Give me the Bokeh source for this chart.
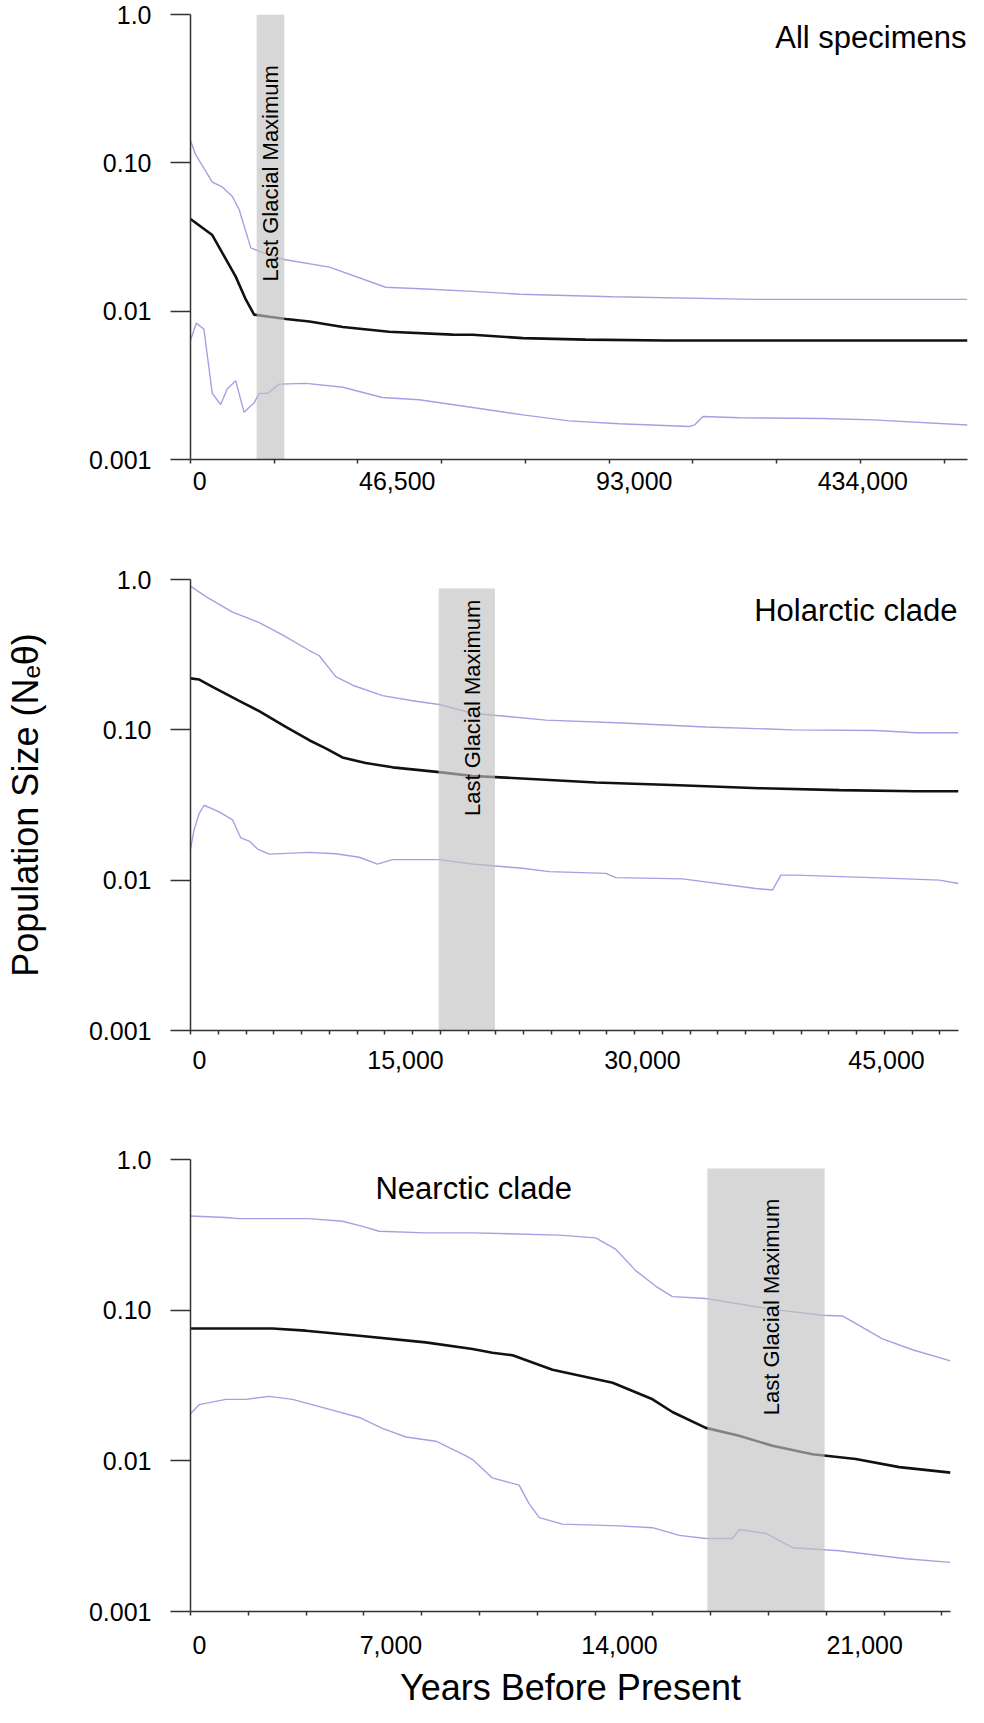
import math
from bokeh.plotting import figure
from bokeh.models import Range1d, FixedTicker, Label
from bokeh.layouts import column
from bokeh.embed import file_html
from bokeh.resources import INLINE

# ---------------- data ----------------
# Panel A: All specimens (x in axis units: one unit per tick mark of the
# original non-linear time axis)
all_med_x = [0, 0.26, 0.54, 0.66, 0.76, 0.94, 1.14, 1.42, 1.82, 2.37, 3.13, 3.37, 3.97, 4.72, 5.68, 9.28]
all_med_y = [0.0418, 0.0326, 0.0171, 0.0120, 0.00948, 0.00916, 0.00886, 0.00851, 0.00783, 0.00726,
             0.00695, 0.00693, 0.00658, 0.00643, 0.00634, 0.00634]
all_hi_x = [0, 0.06, 0.26, 0.38, 0.50, 0.58, 0.72, 0.82, 1.10, 1.66, 2.33, 2.81, 3.37, 3.93, 5.04, 6.75, 9.28]
all_hi_y = [0.1415, 0.114, 0.0741, 0.0688, 0.0593, 0.0486, 0.0267, 0.0254, 0.0224, 0.0198, 0.0145,
            0.0141, 0.0136, 0.0130, 0.0125, 0.0120, 0.0120]
all_lo_x = [0, 0.07, 0.16, 0.26, 0.36, 0.44, 0.54, 0.64, 0.76, 0.82, 0.92, 1.06, 1.38, 1.82, 2.29, 2.73,
            3.37, 3.97, 4.52, 5.12, 5.96, 6.02, 6.12, 6.56, 7.55, 8.15, 9.28]
all_lo_y = [0.00637, 0.00831, 0.00755, 0.00279, 0.00235, 0.00300, 0.00339, 0.00208, 0.00241, 0.00279,
            0.00279, 0.00322, 0.00326, 0.00307, 0.00262, 0.00253, 0.00224, 0.00200, 0.00182, 0.00174,
            0.00167, 0.00171, 0.00195, 0.00191, 0.00189, 0.00185, 0.00171]
all_x_end = 9.28
all_tick_units = list(range(0, 10))
all_label_pos = [0.11, 2.47, 5.30, 8.03]
all_labels = ["0", "46,500", "93,000", "434,000"]
all_lgm = [0.79, 1.12]
all_lgm_top = 1.0

# Panel B: Holarctic clade (years before present)
hol_med_x = [0, 550, 1390, 3070, 4330, 6010, 7490, 8530, 9580, 11050, 12740, 15680, 17780, 19880,
             25560, 30820, 35860, 40910, 45740, 48430]
hol_med_y = [0.220, 0.216, 0.193, 0.156, 0.133, 0.1045, 0.0853, 0.0753, 0.0655, 0.0601, 0.0563,
             0.0523, 0.0493, 0.0481, 0.0446, 0.0428, 0.0409, 0.0397, 0.0390, 0.0390]
hol_hi_x = [0, 970, 2650, 4330, 5800, 7490, 8120, 9160, 10220, 12110, 14000, 15680, 17780, 22410,
            27240, 32500, 37980, 43220, 45740, 48430]
hol_hi_y = [0.904, 0.770, 0.607, 0.517, 0.428, 0.337, 0.311, 0.226, 0.198, 0.169, 0.156, 0.1475,
            0.129, 0.116, 0.111, 0.1045, 0.100, 0.099, 0.0957, 0.0957]
hol_lo_x = [0, 230, 550, 860, 1810, 2650, 3170, 3700, 4230, 4960, 7490, 9160, 10640, 11790, 12740,
            15680, 17780, 20940, 22620, 26190, 26820, 31030, 35650, 36700, 37230, 38170, 43000,
            47220, 48430]
hol_lo_y = [0.0161, 0.0217, 0.0278, 0.0315, 0.0285, 0.0252, 0.0191, 0.0182, 0.0161, 0.0149, 0.0153,
            0.0150, 0.0142, 0.0128, 0.0137, 0.0137, 0.0128, 0.0120, 0.0114, 0.0111, 0.0104, 0.0102,
            0.0088, 0.0086, 0.0108, 0.0108, 0.0104, 0.0100, 0.0095]
hol_x_end = 48430
hol_tick_years = list(range(0, 48431, 1750))
hol_label_pos = [570, 13560, 28500, 43890]
hol_labels = ["0", "15,000", "30,000", "45,000"]
hol_lgm = [15650, 19200]
hol_lgm_top = 0.87

# Panel C: Nearctic clade (years before present)
nea_med_x = [0, 2480, 3490, 5110, 7120, 8540, 9140, 9750, 10960, 12780, 13990, 14590, 15600, 16610,
             17620, 18830, 20140, 21460, 23010]
nea_med_y = [0.0755, 0.0755, 0.0731, 0.0676, 0.0611, 0.0552, 0.0522, 0.0502, 0.0402, 0.0330, 0.0256,
             0.0211, 0.01655, 0.01465, 0.01259, 0.01106, 0.01028, 0.00908, 0.00835]
nea_hi_x = [0, 1070, 1470, 3590, 4600, 5210, 5710, 7120, 8540, 11160, 12270, 12880, 13480, 14090,
            14590, 15600, 17620, 19130, 19740, 20950, 21860, 23010]
nea_hi_y = [0.422, 0.412, 0.405, 0.405, 0.389, 0.360, 0.334, 0.326, 0.326, 0.315, 0.302, 0.253, 0.183,
            0.144, 0.123, 0.1194, 0.1012, 0.0925, 0.0915, 0.0645, 0.0546, 0.0461]
nea_lo_x = [0, 260, 1070, 1670, 2380, 3090, 4100, 5110, 5810, 6520, 7430, 8340, 8540, 9140, 9950,
            10250, 10560, 11260, 12980, 13990, 14800, 15600, 16410, 16610, 17420, 18230, 19640,
            21660, 23010]
nea_lo_y = [0.0205, 0.0236, 0.0256, 0.0256, 0.0268, 0.0256, 0.0223, 0.0194, 0.0164, 0.0144, 0.0135,
            0.0108, 0.0102, 0.0077, 0.0069, 0.0052, 0.0042, 0.0038, 0.0037, 0.0036, 0.0032, 0.00305,
            0.00305, 0.0035, 0.0033, 0.00265, 0.00253, 0.00224, 0.00212]
nea_x_end = 23010
nea_tick_years = list(range(0, 23011, 1750))
nea_label_pos = [270, 6070, 12990, 20410]
nea_labels = ["0", "7,000", "14,000", "21,000"]
nea_lgm = [15650, 19200]
nea_lgm_top = 0.87

y_ticks = [0.001, 0.01, 0.1, 1.0]
y_tick_labels = ["0.001", "0.01", "0.10", "1.0"]

titles = ["All specimens", "Holarctic clade", "Nearctic clade"]
lgm_text = "Last Glacial Maximum"
y_title = "Population Size (N\u2091\u03b8)"
x_title = "Years Before Present"

# ---------------- style ----------------
FONT = "Liberation Sans"
MED_COLOR = "#111111"
CI_COLOR = "#a2a2e2"
AX_COLOR = "#333333"
BAND_COLOR = "#c2c2c2"


def make_panel(fw, fh, mt, mb, mr, x_end, tick_pos, label_pos, labels, x_std):
    p = figure(frame_width=fw, frame_height=fh,
               x_range=Range1d(0, x_end), y_range=Range1d(0.001, 1.0),
               y_axis_type="log", output_backend="svg", toolbar_location=None,
               min_border_left=190, min_border_right=mr,
               min_border_top=mt, min_border_bottom=mb)
    p.outline_line_color = None
    p.grid.visible = False
    p.background_fill_color = "white"
    p.border_fill_color = "white"

    ya = p.yaxis[0]
    ya.ticker = FixedTicker(ticks=y_ticks, minor_ticks=[])
    ya.major_label_overrides = dict(zip(y_ticks, y_tick_labels))
    ya.major_tick_out = 20
    ya.major_tick_in = 0
    ya.minor_tick_line_color = None
    ya.major_tick_line_color = AX_COLOR
    ya.major_tick_line_width = 1.5
    ya.axis_line_color = AX_COLOR
    ya.axis_line_width = 1.5
    ya.major_label_standoff = 19
    ya.major_label_text_font = FONT
    ya.major_label_text_font_size = "25px"
    ya.major_label_text_color = "black"

    xa = p.xaxis[0]
    xa.ticker = FixedTicker(ticks=label_pos, minor_ticks=tick_pos)
    xa.major_label_overrides = dict(zip(label_pos, labels))
    xa.major_tick_out = 0
    xa.major_tick_in = 0
    xa.major_tick_line_color = None
    xa.minor_tick_out = 4
    xa.minor_tick_in = 0
    xa.minor_tick_line_color = AX_COLOR
    xa.minor_tick_line_width = 1.5
    xa.axis_line_color = AX_COLOR
    xa.axis_line_width = 1.5
    xa.major_label_standoff = x_std
    xa.major_label_text_font = FONT
    xa.major_label_text_font_size = "25px"
    xa.major_label_text_color = "black"
    return p


def draw_series(p, mx, my, hx, hy, lx, ly, lgm, lgm_top):
    p.line(hx, hy, line_color=CI_COLOR, line_width=1.4)
    p.line(lx, ly, line_color=CI_COLOR, line_width=1.4)
    p.line(mx, my, line_color=MED_COLOR, line_width=2.6)
    p.quad(left=[lgm[0]], right=[lgm[1]], bottom=[y_ticks[0]], top=[lgm_top],
           fill_color=BAND_COLOR, fill_alpha=0.65, line_color=None)


def lgm_label(p, lgm, y, dx):
    p.add_layout(Label(x=(lgm[0] + lgm[1]) / 2, y=y, x_offset=dx, text=lgm_text,
                       angle=math.pi / 2, text_align="center", text_baseline="middle",
                       text_font=FONT, text_font_size="22px", text_color="black"))


# Panel A
p1 = make_panel(777, 445, 14, 73, 1, all_x_end, all_tick_units, all_label_pos, all_labels, 8)
draw_series(p1, all_med_x, all_med_y, all_hi_x, all_hi_y, all_lo_x, all_lo_y, all_lgm, all_lgm_top)
lgm_label(p1, all_lgm, 0.085, 0)
p1.add_layout(Label(x=all_x_end, y=0.70, x_offset=-1, text=titles[0], text_align="right",
                    text_baseline="alphabetic", text_font=FONT, text_font_size="31px",
                    text_color="black"))

# Panel B
p2 = make_panel(768, 451, 47, 72, 10, hol_x_end, hol_tick_years, hol_label_pos, hol_labels, 16)
draw_series(p2, hol_med_x, hol_med_y, hol_hi_x, hol_hi_y, hol_lo_x, hol_lo_y, hol_lgm, hol_lgm_top)
lgm_label(p2, hol_lgm, 0.14, 6)
p2.add_layout(Label(x=hol_x_end, y=0.622, x_offset=-1, text=titles[1], text_align="right",
                    text_baseline="alphabetic", text_font=FONT, text_font_size="31px",
                    text_color="black"))
ya2 = p2.yaxis[0]
ya2.axis_label = y_title
ya2.axis_label_text_font = FONT
ya2.axis_label_text_font_size = "36px"
ya2.axis_label_text_font_style = "normal"
ya2.axis_label_text_color = "black"
ya2.axis_label_standoff = 40

# Panel C
p3 = make_panel(760, 452, 57, 94, 18, nea_x_end, nea_tick_years, nea_label_pos, nea_labels, 20)
draw_series(p3, nea_med_x, nea_med_y, nea_hi_x, nea_hi_y, nea_lo_x, nea_lo_y, nea_lgm, nea_lgm_top)
lgm_label(p3, nea_lgm, 0.105, 5)
p3.add_layout(Label(x=5600, y=0.642, text=titles[2], text_align="left",
                    text_baseline="alphabetic", text_font=FONT, text_font_size="31px",
                    text_color="black"))
xa3 = p3.xaxis[0]
xa3.axis_label = x_title
xa3.axis_label_text_font = FONT
xa3.axis_label_text_font_size = "36px"
xa3.axis_label_text_font_style = "normal"
xa3.axis_label_text_color = "black"
xa3.axis_label_standoff = 10

layout = column(p1, p2, p3)
open("out.html", "w").write(file_html(layout, INLINE))
